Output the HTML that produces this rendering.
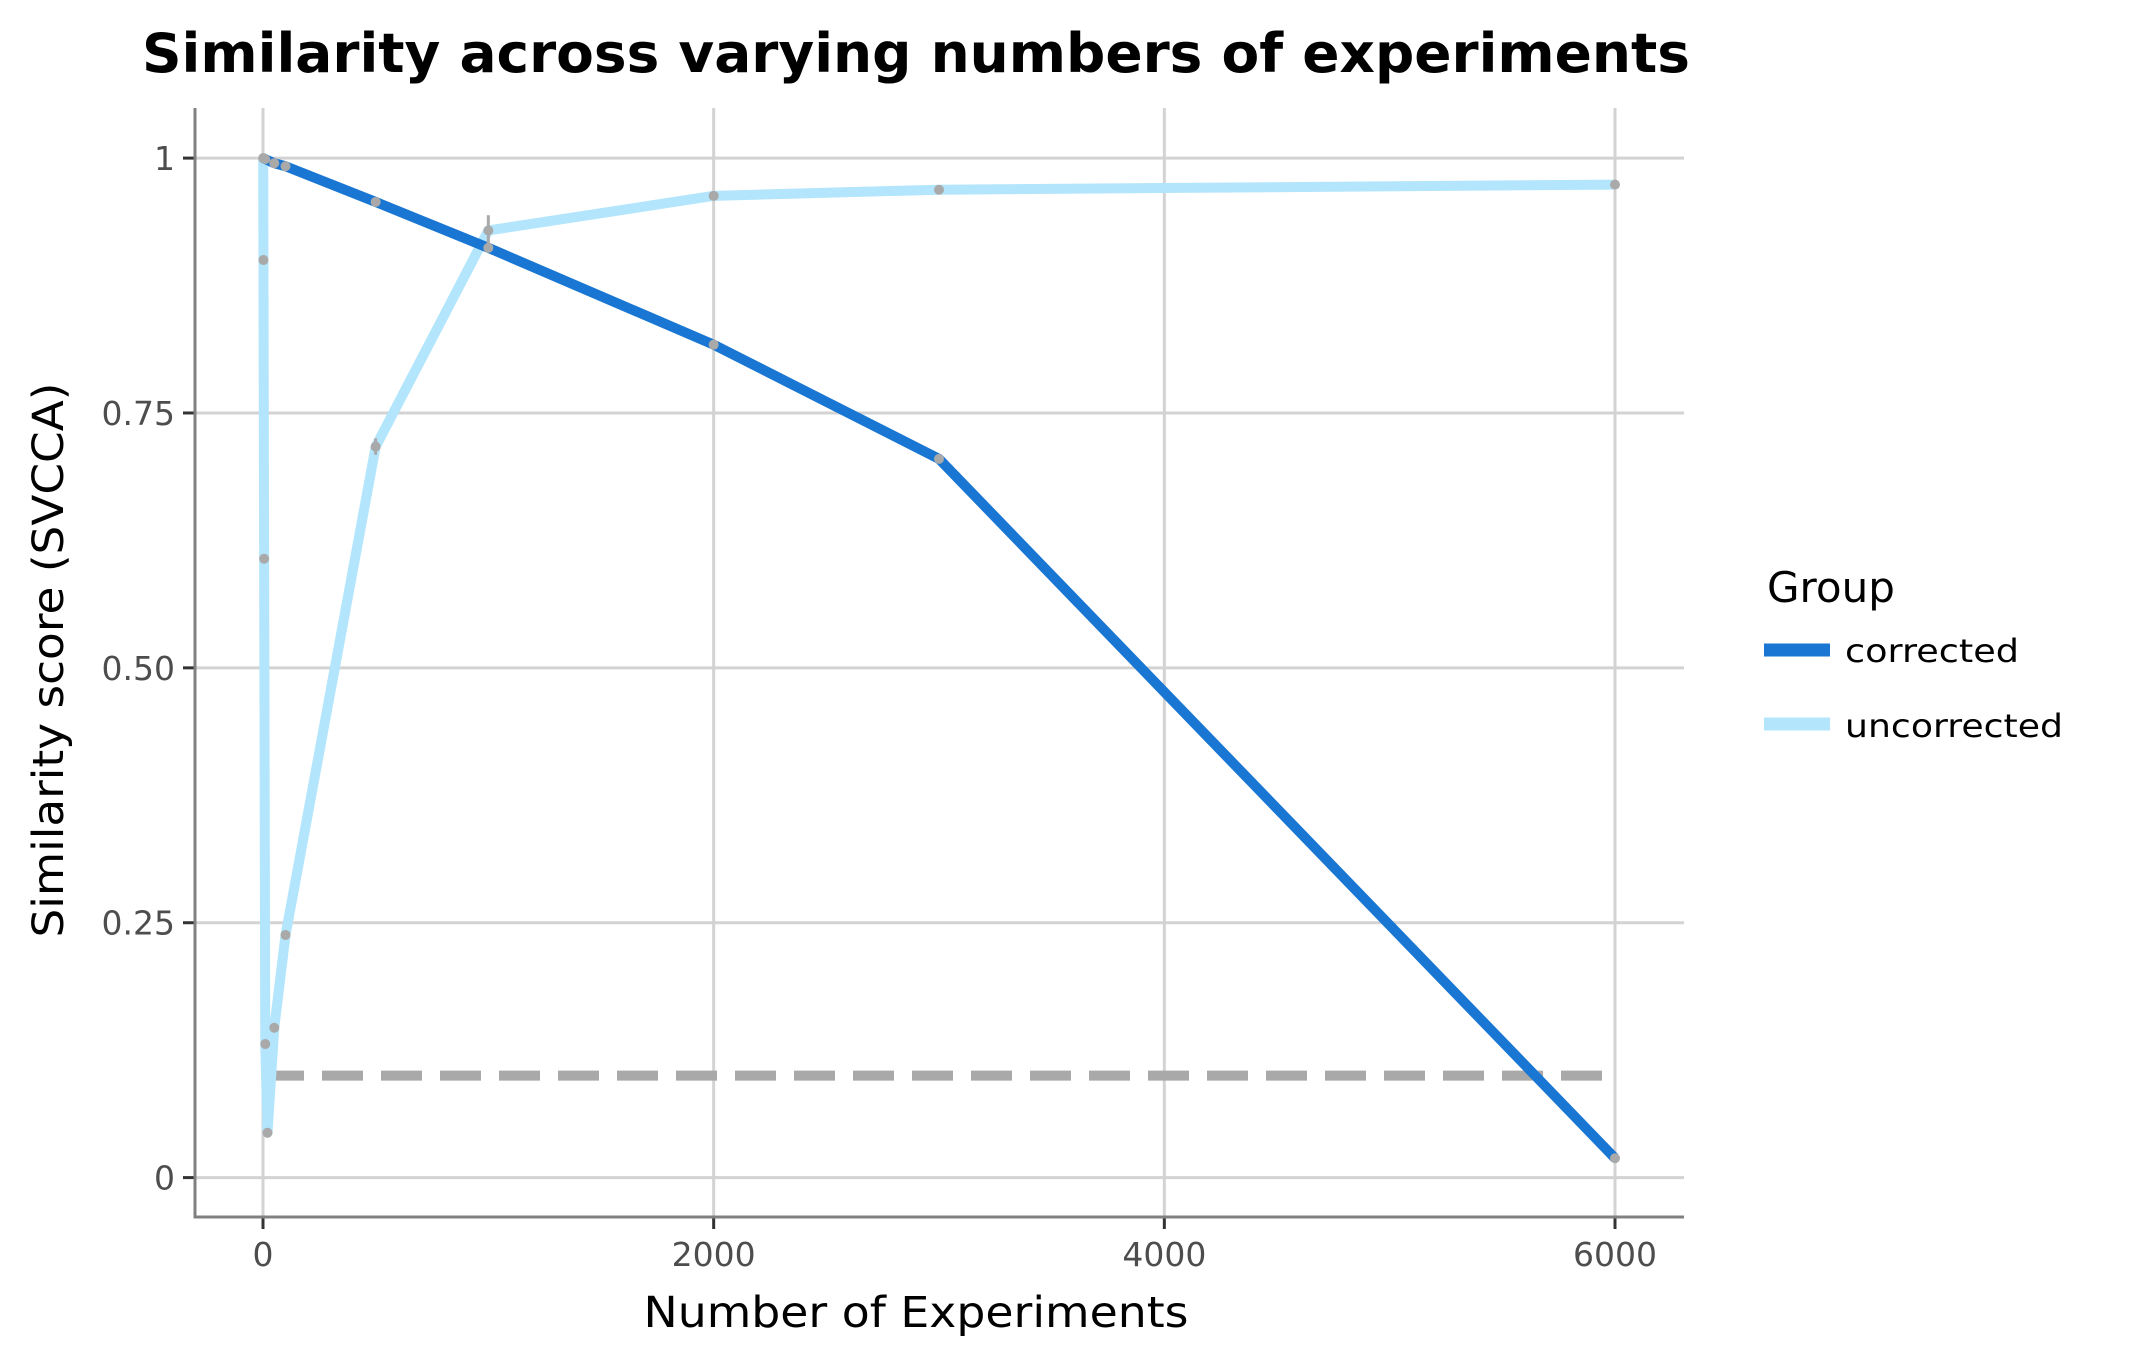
<!DOCTYPE html>
<html><head><meta charset="utf-8"><style>
html,body{margin:0;padding:0;background:#fff;}
svg{display:block;font-family:"DejaVu Sans","Liberation Sans",sans-serif;}
</style></head><body>
<svg id="chart" width="2145" height="1367" viewBox="0 0 2145 1367" xmlns="http://www.w3.org/2000/svg">
<text x="142" y="72" font-size="54" font-weight="bold" textLength="1548" lengthAdjust="spacingAndGlyphs">Similarity across varying numbers of experiments</text>
<g id="grid"></g>
<g id="marks"></g>
<g id="axes"></g>
<text x="916" y="1327" font-size="43" text-anchor="middle" textLength="545" lengthAdjust="spacingAndGlyphs">Number of Experiments</text>
<text transform="translate(63,660) rotate(-90)" font-size="43" text-anchor="middle" textLength="555" lengthAdjust="spacingAndGlyphs">Similarity score (SVCCA)</text>
<g>
<text x="1767" y="602" font-size="42">Group</text>
<line x1="1764" y1="650" x2="1830" y2="650" stroke="#1976D2" stroke-width="13"/>
<text x="1845" y="662" font-size="32" textLength="174" lengthAdjust="spacingAndGlyphs">corrected</text>
<line x1="1764" y1="724" x2="1830" y2="724" stroke="#B3E5FC" stroke-width="13"/>
<text x="1845" y="737" font-size="32" textLength="218" lengthAdjust="spacingAndGlyphs">uncorrected</text>
</g>
</svg>
<script>
const correctedX = [1, 10, 50, 100, 500, 1000, 2000, 3000, 6000];
const correctedY = [1.0, 0.999, 0.995, 0.992, 0.957, 0.912, 0.817, 0.705, 0.019];
const uncorrectedX = [1, 2, 5, 10, 20, 50, 100, 500, 1000, 2000, 3000, 6000];
const uncorrectedY = [1.0, 0.9, 0.607, 0.131, 0.044, 0.147, 0.238, 0.717, 0.929, 0.963, 0.969, 0.974];
const uncorrectedErr = [0, 0, 0, 0, 0, 0, 0, 0.008, 0.015, 0, 0, 0];
const thresholdValue = 0.1;
const xTicks = [0, 2000, 4000, 6000];
const xTickLabels = ["0", "2000", "4000", "6000"];
const yTicks = [0, 0.25, 0.5, 0.75, 1];
const yTickLabels = ["0", "0.25", "0.50", "0.75", "1"];

const NS = "http://www.w3.org/2000/svg";
const X0 = 263, X1 = 1615, Y0 = 1177.6, Y1 = 158.1;
function sx(v){ return X0 + (v / 6000) * (X1 - X0); }
function sy(v){ return Y0 + v * (Y1 - Y0); }
function mk(tag, attrs, parent){
  const e = document.createElementNS(NS, tag);
  for (const k in attrs) e.setAttribute(k, attrs[k]);
  parent.appendChild(e);
  return e;
}
const grid = document.getElementById('grid');
const marks = document.getElementById('marks');
const axes = document.getElementById('axes');
const PL = 195, PR = 1684, PT = 108, PB = 1217;

yTicks.forEach((t, i) => {
  const l = mk('line', {x1: PL, x2: PR, y1: sy(t), y2: sy(t), stroke: '#d3d3d3', 'stroke-width': 3}, grid);
  
  
  const tk = mk('line', {x1: PL - 12, x2: PL, y1: sy(t), y2: sy(t), stroke: '#333', 'stroke-width': 3}, axes);
  
  
  const tx = mk('text', {x: 175, y: sy(t) + 12, 'font-size': 33, 'text-anchor': 'end', fill: '#4d4d4d'}, axes);
  tx.textContent = yTickLabels[i];
  
  
});
xTicks.forEach((t, i) => {
  const l = mk('line', {x1: sx(t), x2: sx(t), y1: PT, y2: PB, stroke: '#d3d3d3', 'stroke-width': 3}, grid);
  
  
  const tk = mk('line', {x1: sx(t), x2: sx(t), y1: PB, y2: PB + 12, stroke: '#333', 'stroke-width': 3}, axes);
  
  
  const tx = mk('text', {x: sx(t), y: 1266, 'font-size': 33, 'text-anchor': 'middle', fill: '#4d4d4d'}, axes);
  tx.textContent = xTickLabels[i];
  
  
});
const ax = mk('polyline', {points: `${PL},${PT} ${PL},${PB} ${PR},${PB}`, fill: 'none', stroke: '#808080', 'stroke-width': 3}, axes);



const th = mk('line', {x1: sx(0), x2: sx(6000), y1: sy(thresholdValue), y2: sy(thresholdValue), stroke: '#a9a9a9', 'stroke-width': 10, 'stroke-dasharray': '41 18'}, marks);



const pu = mk('polyline', {points: uncorrectedX.map((x, i) => sx(x) + ',' + sy(uncorrectedY[i])).join(' '), fill: 'none', stroke: '#B3E5FC', 'stroke-width': 10, 'stroke-linejoin': 'round'}, marks);


const pc = mk('polyline', {points: correctedX.map((x, i) => sx(x) + ',' + sy(correctedY[i])).join(' '), fill: 'none', stroke: '#1976D2', 'stroke-width': 10, 'stroke-linejoin': 'round'}, marks);



uncorrectedX.forEach((x, i) => {
  if (uncorrectedErr[i] > 0) {
    const e = mk('line', {x1: sx(x), x2: sx(x), y1: sy(uncorrectedY[i] - uncorrectedErr[i]), y2: sy(uncorrectedY[i] + uncorrectedErr[i]), stroke: '#a9a9a9', 'stroke-width': 3}, marks);
    
    
  }
  const c = mk('circle', {cx: sx(x), cy: sy(uncorrectedY[i]), r: 5, fill: '#a9a9a9'}, marks);
  
  
});
correctedX.forEach((x, i) => {
  const c = mk('circle', {cx: sx(x), cy: sy(correctedY[i]), r: 5, fill: '#a9a9a9'}, marks);
  
  
});
</script>
</body></html>
